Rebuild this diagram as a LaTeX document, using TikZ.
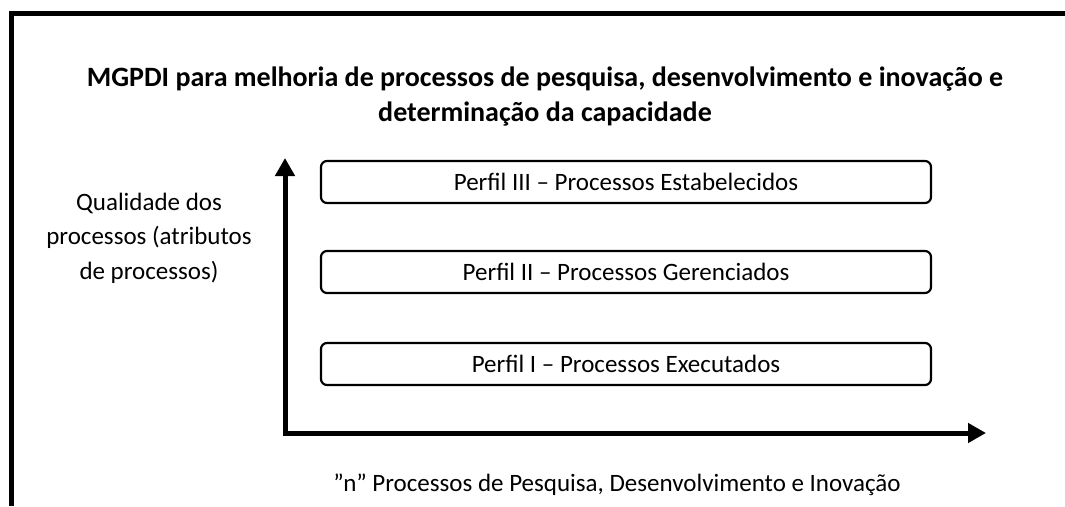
\documentclass[tikz,border=0pt]{standalone}
\usepackage{fontspec}
\setmainfont{Carlito}
\usepackage{tikz}
\usetikzlibrary{arrows.meta}
\newcommand{\widthprofile}{610pt}
\newcommand{\heightprofile}{42pt}
\tikzset{
    common/.style={align=center, font=\fontsize{25}{34.5}\selectfont},
    profile/.style={common, draw, rounded corners=6pt, line width=2.2pt, minimum width=\widthprofile, minimum height=\heightprofile},
    heading/.style={common, font=\bfseries\fontsize{28}{35}\selectfont},
    frame/.style={line width=5pt},
    axis/.style={line width=5pt, line join=miter, {Triangle[length=18pt,width=19pt]}-{Triangle[length=18pt,width=19pt]}}
}
\begin{document}
\begin{tikzpicture}[x=1pt, y=-1pt]
    \useasboundingbox (0,0) rectangle (1065,506);
    % frame, cut off at right and bottom
    \coordinate (framebot) at (11,506);
    \coordinate (frameright) at (1065,13);
    \draw[frame] (framebot) |- (frameright);

    \node[heading] (title) at (545,97) {MGPDI para melhoria de processos de pesquisa, desenvolvimento e inovação e\\determinação da capacidade};

    % axes
    \coordinate (ytip) at (285,158);
    \coordinate (xtip) at (986,433);
    \draw[axis] (ytip) |- (xtip);

    \path (626,182)
        node[profile] (P3) {Perfil III – Processos Estabelecidos}
        ++(0,90) node[profile] (P2) {Perfil II – Processos Gerenciados}
        ++(0,92) node[profile] (P1) {Perfil I – Processos Executados};

    \node[common] (quality) at (149,238) {Qualidade dos\\processos (atributos\\de processos)};
    \node[common] (nproc) at (617,485) {”n” Processos de Pesquisa, Desenvolvimento e Inovação};
\end{tikzpicture}
\end{document}
